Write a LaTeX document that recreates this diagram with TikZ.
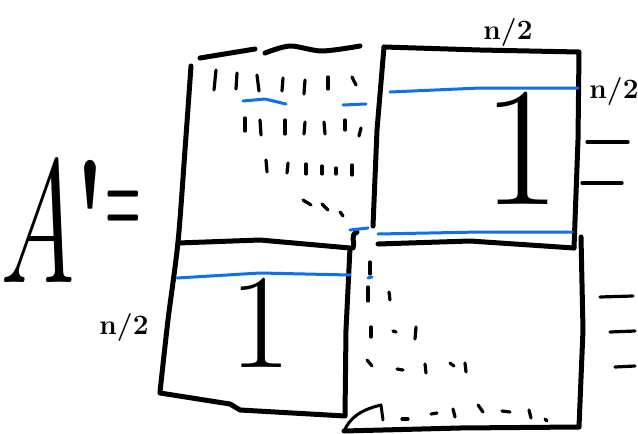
\documentclass[tikz,border=0pt]{standalone}
\usepackage{fontspec}
\newfontfamily\lmplain{Latin Modern Roman}[Ligatures=TeXOff]
\usetikzlibrary{positioning}
\definecolor{pen}{RGB}{14,112,236}

\begin{document}
\begin{tikzpicture}[x=1pt, y=-1pt,
  line cap=round, line join=round,
  box/.style={line width=5pt, black},
  blu/.style={line width=3pt, pen},
  tk/.style={line width=3.2pt, black},
  lbl/.style={inner sep=0pt, font=\fontsize{28}{28}\selectfont\bfseries},
  num/.style={inner sep=0pt}]

\useasboundingbox (0,0) rectangle (638,434);

% left-hand side
\node[inner sep=0pt, font=\fontsize{175}{175}\selectfont] (lhs) at (53,220)
      {\scalebox{0.62}[1]{{\itshape A}\kern-0.04em{\lmplain\bfseries'}}};
\node[inner sep=0pt, font=\fontsize{110}{110}\selectfont\bfseries] (eq) at (123,212)
      {\scalebox{0.37}[1]{=}};

% sizes
\node[lbl] (ntop) at (508,32) {n/2};
\node[lbl] (nright) at (614,91) {n/2};
\node[lbl] (nleft) at (124,327) {n/2};

% the two blocks of ones
\node[num, font=\fontsize{170}{170}\selectfont] (onetr) at (522,148) {1};
\node[num, font=\fontsize{135}{135}\selectfont] (onebl) at (260,323) {1};

% --- outlines
\draw[box] (200,58) -- (255,49);
\draw[box] plot[smooth] coordinates {(265,53) (290,46) (322,51) (360,46)};
\draw[box] plot[smooth] coordinates {(191,66) (185,150) (178,242) (168,320) (160,392)};
\draw[box] (384,47) -- (480,50) -- (579,52) -- (578,140) -- (574,248);
\draw[box] (384,47) -- (377,130) -- (373,226);
\draw[box] (357,232) .. controls (349,236) and (356,242) .. (353,248);
\draw[box] (378,244) -- (470,241) -- (574,248);
\draw[box] (178,243) -- (260,240) -- (350,248) -- (346,330) -- (345,416)
           -- (240,410) -- (230,404) -- (160,393);
\draw[box] (581,237) -- (583,330) -- (579,427) -- (460,428) -- (344,431);
\draw[line width=3pt] (344,431) .. controls (350,418) and (360,410) .. (381,405) -- (383,420);

% --- blue rows
\draw[blu] (390,92) -- (480,88) -- (578,88);
\draw[blu] (378,234) -- (480,232) -- (572,232);
\draw[blu] (350,230) -- (368,228);
\draw[blu] (177,278) -- (260,273) -- (350,275);
\draw[blu] (243,101) -- (265,99) -- (286,104);
\draw[blu] (343,105) -- (366,104);
\draw[blu] (368,278) -- (372,277);

% --- entries, upper left
\foreach \x/\y/\dx/\dy in {216/70/-2/20, 237/73/-1/16, 257/75/2/16, 283/78/-1/13,
    305/80/-1/14, 328/77/0/12, 352/77/4/8,
    245/118/0/13, 260/120/1/15, 285/120/0/14, 305/122/-1/12, 324/122/1/12,
    345/120/0/10, 361/128/-2/8,
    266/160/1/12, 288/163/-1/10, 306/164/0/10, 322/166/0/8, 336/168/0/6,
    352/165/0/10,
    303/200/8/5, 322/204/6/6, 340/212/3/4}
  \draw[tk] (\x,\y) -- ++(\dx,\dy);

% --- entries, lower right
\foreach \x/\y/\dx/\dy in {370/262/0/12,
    368/287/0/14, 389/292/1/8,
    371/327/0/10, 393/331/3/1, 416/327/-1/12,
    367/360/5/6, 397/369/6/1, 425/364/1/9, 450/363/4/3, 465/363/1/9,
    402/419/6/0, 431/414/6/-1, 453/409/2/8, 478/405/5/7, 502/411/8/1,
    529/410/2/8, 545/419/2/2}
  \draw[tk] (\x,\y) -- ++(\dx,\dy);

% --- dashes on the right
\draw[tk] (587,142) -- (628,142);
\draw[tk] (582,183) -- (622,183);
\draw[tk] (600,297) -- (633,296);
\draw[tk] (610,332) -- (635,331);
\draw[tk] (615,367) -- (635,366);

\end{tikzpicture}
\end{document}
